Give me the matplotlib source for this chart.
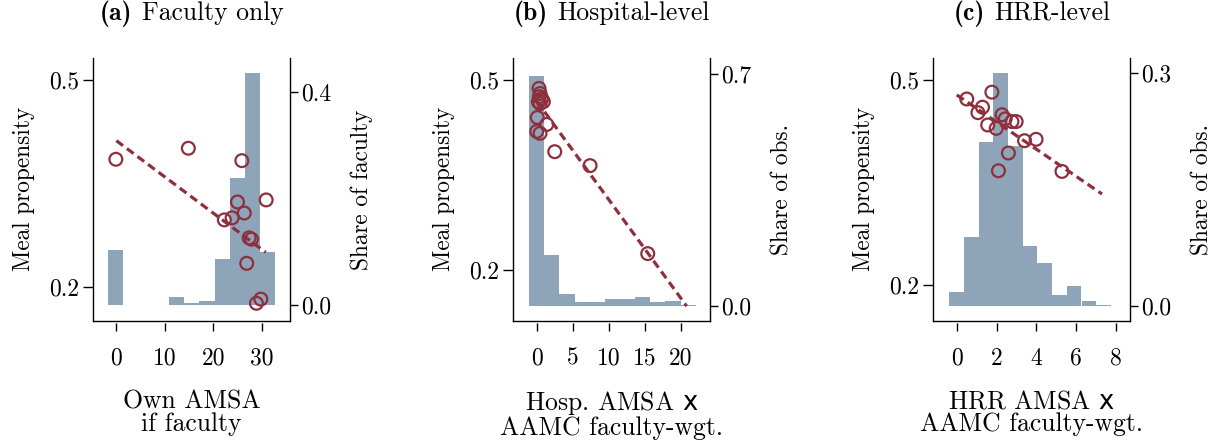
import matplotlib
matplotlib.use("Agg")
import matplotlib.pyplot as plt
from matplotlib.offsetbox import TextArea, HPacker, AnnotationBbox

plt.rcParams['font.family'] = 'cmr10'
plt.rcParams['mathtext.fontset'] = 'custom'
plt.rcParams['mathtext.sf'] = 'DejaVu Sans'
plt.rcParams['axes.formatter.use_mathtext'] = True
plt.rcParams['lines.scale_dashes'] = False

# panel (a): faculty only
hist_a_x = [0.0, 3.12, 6.24, 9.36, 12.48, 15.6, 18.72, 21.84, 24.96, 28.08, 31.2]
hist_a_share = [0.103, 0.0, 0.0, 0.0, 0.015, 0.003, 0.008, 0.086, 0.239, 0.436, 0.100]
pts_a_x = [0.0, 14.9, 25.9, 30.9, 25.0, 26.4, 23.9, 22.3, 27.4, 27.9, 26.9, 29.8, 28.9]
pts_a_y = [0.385, 0.401, 0.383, 0.326, 0.323, 0.307, 0.300, 0.297, 0.271, 0.269,
           0.234, 0.182, 0.176]
fit_a_x = [0.1, 30.8]
fit_a_y = [0.412, 0.250]

# panel (b): hospital-level
hist_b_x = [0.0, 2.1, 4.2, 6.3, 8.4, 10.5, 12.6, 14.7, 16.8, 18.9, 21.0]
hist_b_share = [0.695, 0.154, 0.035, 0.012, 0.012, 0.020, 0.020, 0.026, 0.012, 0.015, 0.002]
pts_b_x = [0.32, 0.46, 0.37, 0.69, 0.22, 0.92, 0.46, 0.08, 1.39, 0.0, 0.46, 2.5, 7.4, 15.4]
pts_b_y = [0.487, 0.479, 0.474, 0.471, 0.466, 0.466, 0.463, 0.441, 0.430, 0.419,
           0.416, 0.387, 0.365, 0.226]
fit_b_x = [0.0, 20.8]
fit_b_y = [0.467, 0.143]

# panel (c): HRR-level
hist_c_x = [-0.02, 0.72, 1.46, 2.19, 2.93, 3.67, 4.41, 5.15, 5.89, 6.63, 7.37]
hist_c_share = [0.018, 0.088, 0.211, 0.300, 0.206, 0.077, 0.055, 0.014, 0.026, 0.006, 0.001]
pts_c_x = [1.76, 0.50, 1.29, 1.06, 2.27, 2.43, 2.77, 2.98, 1.55, 1.98, 3.98, 3.40,
           2.59, 2.09, 5.28]
pts_c_y = [0.482, 0.472, 0.460, 0.452, 0.449, 0.443, 0.439, 0.439, 0.434, 0.429,
           0.413, 0.411, 0.393, 0.367, 0.366]
fit_c_x = [0.0, 7.29]
fit_c_y = [0.478, 0.333]

title_tags = ['(a)', '(b)', '(c)']
titles = ['Faculty only', 'Hospital-level', 'HRR-level']
xlabels = ['Own AMSA\nif faculty', 'Hosp. AMSA $\\mathsf{x}$\nAAMC faculty-wgt.',
           'HRR AMSA $\\mathsf{x}$\nAAMC faculty-wgt.']
right_labels = ['Share of faculty', 'Share of obs.', 'Share of obs.']
xticks = [[0, 10, 20, 30], [0, 5, 10, 15, 20], [0, 2, 4, 6, 8]]
right_ticks = [[0.0, 0.4], [0.0, 0.7], [0.0, 0.3]]

BAR_COL = '#8ea4b9'
RED = '#8e2f3c'

panels = [
    dict(hx=hist_a_x, hs=hist_a_share, w=3.12, px=pts_a_x, py=pts_a_y, fx=fit_a_x, fy=fit_a_y,
         xlim=(-4.70, 35.8), ylim=(0.1507, 0.532), y2lim=(-0.0295, 0.464), left=93),
    dict(hx=hist_b_x, hs=hist_b_share, w=2.1, px=pts_b_x, py=pts_b_y, fx=fit_b_x, fy=fit_b_y,
         xlim=(-3.25, 24.08), ylim=(0.120, 0.535), y2lim=(-0.0453, 0.748), left=513.3),
    dict(hx=hist_c_x, hs=hist_c_share, w=0.739, px=pts_c_x, py=pts_c_y, fx=fit_c_x, fy=fit_c_y,
         xlim=(-1.18, 8.71), ylim=(0.1476, 0.532), y2lim=(-0.0193, 0.319), left=933.3),
]

W, H = 1219, 441
fig = plt.figure(figsize=(W / 100, H / 100), dpi=100)

for i, p in enumerate(panels):
    rect = [p['left'] / W, (H - 320.7) / H, 197 / W, 262.7 / H]
    ax = fig.add_axes(rect)
    ax2 = ax.twinx()
    ax.set_zorder(ax2.get_zorder() + 1)
    ax.patch.set_visible(False)

    ax2.bar(p['hx'], p['hs'], width=p['w'], color=BAR_COL, linewidth=0, align='center')
    ax.scatter(p['px'], p['py'], s=85, facecolors='none', edgecolors=RED, linewidths=1.6,
               zorder=3)
    ax.plot(p['fx'], p['fy'], color=RED, lw=2.3, dashes=(6, 3.5), zorder=2)

    ax.set_xlim(*p['xlim'])
    ax.set_ylim(*p['ylim'])
    ax2.set_ylim(*p['y2lim'])

    for a in (ax, ax2):
        a.spines['top'].set_visible(False)
        for s in a.spines.values():
            s.set_linewidth(1.0)
    ax.spines['right'].set_visible(False)
    ax2.spines['left'].set_visible(False)
    ax2.spines['bottom'].set_visible(False)

    ax.set_yticks([0.2, 0.5])
    ax.set_yticklabels(['0.2', '0.5'])
    ax.tick_params(axis='y', length=7, width=1.0, labelsize=17, pad=3)
    ax.tick_params(axis='x', bottom=False, labelbottom=False)
    ax.set_ylabel('Meal propensity', fontsize=16.8, labelpad=10)

    ax2.set_yticks(right_ticks[i])
    ax2.set_yticklabels(['%.1f' % v for v in right_ticks[i]])
    ax2.tick_params(axis='y', length=6, width=1.0, labelsize=17, pad=2)
    ax2.set_ylabel(right_labels[i], fontsize=16.8, labelpad=14)

    sec = ax.secondary_xaxis(-0.008)
    sec.spines['bottom'].set_visible(False)
    sec.set_xticks(xticks[i])
    sec.set_xticklabels([str(v) for v in xticks[i]])
    sec.tick_params(axis='x', length=6, width=1.0, labelsize=17, pad=12)
    sec.set_xlabel(xlabels[i], fontsize=18.5, labelpad=14, linespacing=0.95)

    # bold panel tag + regular title, centred over the axes
    tag = TextArea(title_tags[i], textprops=dict(fontfamily='cmb10', fontsize=18.5))
    txt = TextArea(titles[i], textprops=dict(fontfamily='cmr10', fontsize=18.5))
    box = HPacker(children=[tag, txt], align='baseline', pad=0, sep=7)
    ab = AnnotationBbox(box, (0.5, 1.0), xycoords='axes fraction', xybox=(0, 22),
                        boxcoords='offset points', box_alignment=(0.5, 0.0),
                        frameon=False, pad=0)
    ax.add_artist(ab)

fig.savefig('out.png', dpi=100)
